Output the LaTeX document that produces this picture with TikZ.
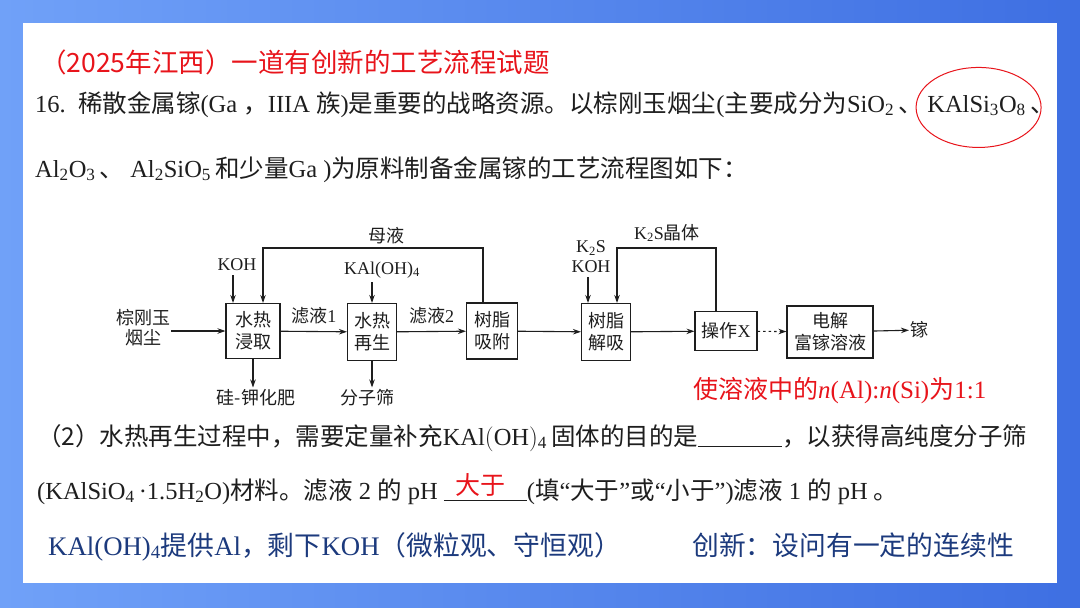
\documentclass[tikz,border=0pt]{standalone}
\usepackage{fontspec}
\setmainfont{Liberation Serif}
\newfontfamily\cjk{Noto Sans CJK SC}
\newcommand{\zh}[1]{{\cjk #1}}
\usetikzlibrary{positioning, arrows.meta, shapes.geometric}
\definecolor{bgleft}{RGB}{112,161,248}
\definecolor{bgright}{RGB}{62,111,226}
\definecolor{titlered}{RGB}{232,20,27}
\definecolor{notenavy}{RGB}{28,58,125}
\definecolor{ink}{RGB}{30,30,30}

\begin{document}
\begin{tikzpicture}[x=1pt, y=-1pt]
    \tikzstyle{block} = [rectangle, draw=ink, line width=1.1pt, text=ink, align=center, inner sep=3pt, minimum width=50pt, minimum height=56pt, font=\fontsize{18}{22}\selectfont]
    \tikzstyle{lbl} = [text=ink, align=center, inner sep=1pt, font=\fontsize{18}{20}\selectfont]
    \tikzstyle{arrow} = [line width=1.1pt, draw=ink, -{Stealth[length=8pt, width=5.5pt]}]
    \tikzstyle{qtext} = [anchor=base west, inner sep=0pt, text=ink, font=\fontsize{24.5}{28}\selectfont]
    \tikzstyle{note} = [anchor=base west, inner sep=0pt, text=notenavy, font=\fontsize{26.8}{30}\selectfont]
    \tikzstyle{redtext} = [anchor=base west, inner sep=0pt, text=titlered, font=\fontsize{25}{28}\selectfont]

    \useasboundingbox (0,0) rectangle (1080,608);
    \shade[left color=bgleft, right color=bgright] (0,0) rectangle (1080,608);
    \fill[white] (23,23) rectangle (1057,583);

    \node [redtext, font=\cjk\fontsize{26.5}{30}\selectfont] (title) at (40,72) {（2025年江西）一道有创新的工艺流程试题};

    \node [qtext] (q1) at (35,112) {16.\ \ \zh{稀散金属镓}(Ga\ \zh{，}IIIA \zh{族})\zh{是重要的战略资源。以棕刚玉烟尘}(\zh{主要成分为}SiO\textsubscript{2}\,\zh{、}\,};
    \node [qtext] (kal) at (q1.base east) {KAlSi\textsubscript{3}O\textsubscript{8}\,};
    \node [qtext] (q1end) at (kal.base east) {\zh{、}};
    \node [ellipse, draw=titlered, line width=1pt, minimum width=125pt, minimum height=80pt] (ring) at ([yshift=-2pt]kal.center) {};
    \node [qtext] (q2) at (35,177) {Al\textsubscript{2}O\textsubscript{3}\,\zh{、} Al\textsubscript{2}SiO\textsubscript{5}\,\zh{和少量}Ga )\zh{为原料制备金属镓的工艺流程图如下：}};

    \node [lbl] (dust) at (143,328) {\zh{棕刚玉}\\\zh{烟尘}};
    \node [block, minimum width=54pt, minimum height=55pt] (leach) at (253,331) {\zh{水热}\\\zh{浸取}};
    \node [block, minimum width=49pt, minimum height=57pt] (regen) at (372,332) {\zh{水热}\\\zh{再生}};
    \node [block, minimum width=51pt] (adsorb) at (492,331) {\zh{树脂}\\\zh{吸附}};
    \node [block, minimum width=49pt, minimum height=57pt] (desorb) at (606,332) {\zh{树脂}\\\zh{解吸}};
    \node [block, minimum width=62pt, minimum height=39pt] (opx) at (726,331) {\zh{操作}X};
    \node [block, minimum width=86pt, minimum height=52pt] (elec) at (830,332) {\zh{电解}\\\zh{富镓溶液}};
    \node [lbl, anchor=west] (ga) at (909,330) {\zh{镓}};

    \node [lbl] (koh) at (237,265) {KOH};
    \node [lbl] (kaloh) at (382,270) {KAl(OH)\textsubscript{4}};
    \node [lbl] (k2s) at (591,257) {K\textsubscript{2}S\\KOH};
    \node [lbl] (mother) at (386,236) {\zh{母液}};
    \node [lbl] (crystal) at (667,233) {K\textsubscript{2}S\zh{晶体}};
    \node [lbl] (fert) at (256,398) {\zh{硅-钾化肥}};
    \node [lbl] (sieve) at (367,398) {\zh{分子筛}};
    \coordinate (mtop) at (263,248);
    \coordinate (ktop) at (617,248);

    \draw [arrow] (dust.east |- leach.west) -- (leach.west);
    \draw [arrow] (leach) -- node [lbl, above=6pt] (f1) {\zh{滤液}1} (regen);
    \draw [arrow] (regen) -- node [lbl, above=6pt] (f2) {\zh{滤液}2} (adsorb);
    \draw [arrow] (adsorb) -- (desorb);
    \draw [arrow] (desorb) -- (opx);
    \draw [arrow, dash pattern=on 2.5pt off 3pt] (opx) -- (elec);
    \draw [arrow] (elec) -- (ga);
    \draw [arrow, shorten <=3pt] ([xshift=-4pt]koh.south) -- ([xshift=-4pt]koh.south |- leach.north);
    \draw [arrow, shorten <=3pt] (kaloh.south -| regen.north) -- (regen.north);
    \draw [arrow, shorten <=3pt] ([xshift=-3pt]k2s.south) -- ([xshift=-3pt]k2s.south |- desorb.north);
    \draw [arrow] ([xshift=-9pt]adsorb.north) |- (mtop) -- (mtop |- leach.north);
    \draw [arrow] ([xshift=-10pt]opx.north) |- (ktop) -- (ktop |- desorb.north);
    \draw [arrow, shorten >=1pt] (leach.south) -- (leach.south |- fert.north);
    \draw [arrow, shorten >=1pt] (regen.south) -- (regen.south |- sieve.north);

    \node [redtext] (ratio) at (693,398) {\zh{使溶液中的}\textit{n}(Al):\textit{n}(Si)\zh{为}1:1};

    \node [qtext] (q3) at (37,445) {\zh{（2）水热再生过程中，需要定量补充}KAl$\bigl($OH$\bigr)$\textsubscript{4}\,\zh{固体的目的是}\underline{\makebox[84pt]{}}\zh{，以获得高纯度分子筛}};
    \node [qtext] (q4) at (37,499) {(KAlSiO\textsubscript{4}\,·1.5H\textsubscript{2}O)\zh{材料。滤液} 2 \zh{的} pH \underline{\makebox[83pt]{}}(\zh{填}``\zh{大于}''\zh{或}``\zh{小于}'')\zh{滤液} 1 \zh{的} pH \zh{。}};
    \node [redtext, anchor=base] (answer) at (480,494) {\zh{大于}};

    \node [note] (micro) at (48,555) {KAl(OH)\textsubscript{4}\zh{提供}Al\zh{，剩下}KOH\zh{（微粒观、守恒观）}};
    \node [note] (innov) at (692,555) {\zh{创新：设问有一定的连续性}};
\end{tikzpicture}
\end{document}
